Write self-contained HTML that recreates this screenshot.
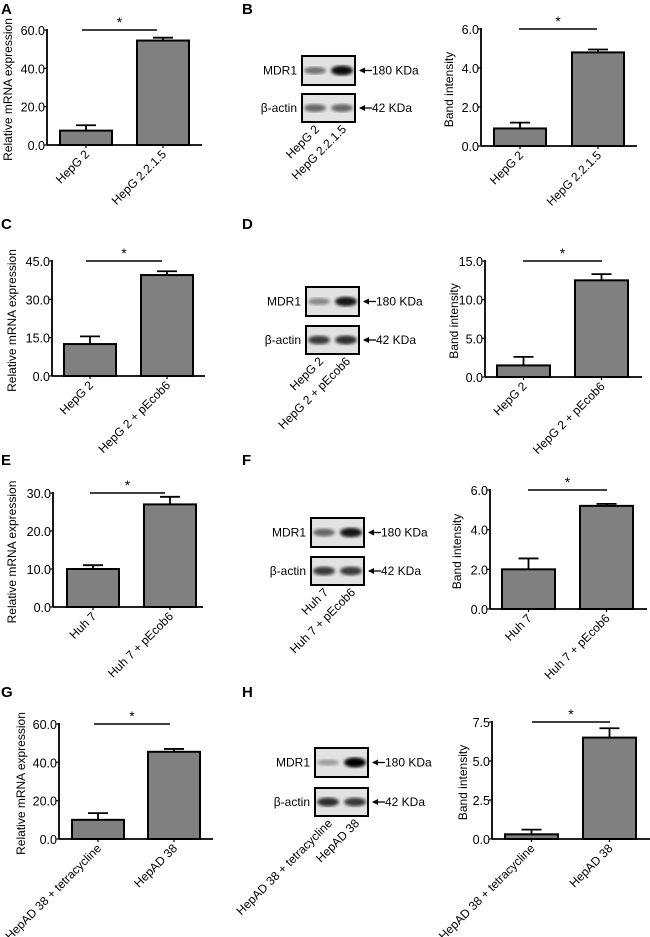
<!DOCTYPE html>
<html><head><meta charset="utf-8"><style>
html,body{margin:0;padding:0;background:#fff}
svg{display:block;font-family:"Liberation Sans",Arial,sans-serif}
</style></head><body>
<svg id="fig" width="650" height="937" viewBox="0 0 650 937" xmlns="http://www.w3.org/2000/svg">
<defs>
<filter id="blur1"><feGaussianBlur stdDeviation="1.6"/></filter>
</defs>
<g font-weight="bold" font-size="15" fill="#000">
<text x="1" y="14">A</text>
<text x="242" y="14">B</text>
<text x="1" y="229">C</text>
<text x="242" y="229">D</text>
<text x="1" y="465">E</text>
<text x="242" y="465">F</text>
<text x="1" y="697">G</text>
<text x="242" y="697">H</text>
</g>
</svg>
<script>
// ---- data ----
const catsA = ["HepG 2", "HepG 2.2.1.5"];
const valsA = [7.5, 54.5];
const errA = [10.3, 56.0];
const ticksA = [0, 20, 40, 60];
const tickLabelsA = ["0.0", "20.0", "40.0", "60.0"];

const catsB = ["HepG 2", "HepG 2.2.1.5"];
const valsB = [0.9, 4.8];
const errB = [1.2, 4.95];
const ticksB = [0, 2, 4, 6];
const tickLabelsB = ["0.0", "2.0", "4.0", "6.0"];

const catsC = ["HepG 2", "HepG 2 + pEcob6"];
const valsC = [12.5, 39.5];
const errC = [15.5, 41.0];
const ticksC = [0, 15, 30, 45];
const tickLabelsC = ["0.0", "15.0", "30.0", "45.0"];

const catsD = ["HepG 2", "HepG 2 + pEcob6"];
const valsD = [1.5, 12.5];
const errD = [2.6, 13.3];
const ticksD = [0, 5, 10, 15];
const tickLabelsD = ["0.0", "5.0", "10.0", "15.0"];

const catsE = ["Huh 7", "Huh 7 + pEcob6"];
const valsE = [10.0, 27.0];
const errE = [11.0, 29.0];
const ticksE = [0, 10, 20, 30];
const tickLabelsE = ["0.0", "10.0", "20.0", "30.0"];

const catsF = ["Huh 7", "Huh 7 + pEcob6"];
const valsF = [2.0, 5.2];
const errF = [2.55, 5.3];
const ticksF = [0, 2, 4, 6];
const tickLabelsF = ["0.0", "2.0", "4.0", "6.0"];

const catsG = ["HepAD 38 + tetracycline", "HepAD 38"];
const valsG = [10.0, 45.5];
const errG = [13.5, 47.0];
const ticksG = [0, 20, 40, 60];
const tickLabelsG = ["0.0", "20.0", "40.0", "60.0"];

const catsH = ["HepAD 38 + tetracycline", "HepAD 38"];
const valsH = [0.3, 6.5];
const errH = [0.6, 7.1];
const ticksH = [0, 2.5, 5, 7.5];
const tickLabelsH = ["0.0", "2.5", "5.0", "7.5"];

const svg = document.getElementById('fig');
const NS = 'http://www.w3.org/2000/svg';
function mk(tag, attrs, parent) {
  const e = document.createElementNS(NS, tag);
  for (const k in attrs) e.setAttribute(k, attrs[k]);
  (parent || svg).appendChild(e);
  return e;
}

function chart(id, cfg, cats, vals, errs, ticks, tickLabels, ytitle) {
  const g = mk('g', {});
  
  
  const max = ticks[ticks.length - 1];
  const y = v => cfg.base - (v / max) * (cfg.base - cfg.top);
  const ya = mk('line', {x1: cfg.ax, y1: cfg.top - 1, x2: cfg.ax, y2: cfg.base, stroke: '#000', 'stroke-width': 1.8}, g);
  
  
  const xa = mk('line', {x1: cfg.ax, y1: cfg.base, x2: cfg.axEnd, y2: cfg.base, stroke: '#000', 'stroke-width': 1.8}, g);
  
  
  ticks.forEach((t, i) => {
    mk('line', {x1: cfg.ax - 3, y1: y(t), x2: cfg.ax, y2: y(t), stroke: '#000', 'stroke-width': 1.2}, g);
    const tl = mk('text', {x: cfg.ax - 2, y: y(t) + 5, 'font-size': 12.5, 'text-anchor': 'end'}, g);
    tl.textContent = tickLabels[i];
    
    
  });
  const yt = mk('text', {transform: `translate(${cfg.titleX},${(cfg.top + cfg.base) / 2 + 2}) rotate(-90)`, 'font-size': 12, 'text-anchor': 'middle'}, g);
  yt.textContent = ytitle;
  
  
  cats.forEach((c, i) => {
    const x0 = cfg.bars[i];
    const cx = x0 + cfg.bw / 2;
    const ey = y(errs[i]);
    mk('line', {x1: cx, y1: ey, x2: cx, y2: y(vals[i]), stroke: '#000', 'stroke-width': 1.8}, g);
    mk('line', {x1: cx - 10, y1: ey, x2: cx + 10, y2: ey, stroke: '#000', 'stroke-width': 1.8}, g);
    mk('line', {x1: cx, y1: cfg.base, x2: cx, y2: cfg.base + 3, stroke: '#000', 'stroke-width': 1.2}, g);
    const b = mk('rect', {x: x0, y: y(vals[i]), width: cfg.bw, height: cfg.base - y(vals[i]), fill: '#808080', stroke: '#000', 'stroke-width': 2}, g);
    
    
    const xl = mk('text', {transform: `translate(${cx + 4},${cfg.base + 10}) rotate(-45)`, 'font-size': 12, 'text-anchor': 'end'}, g);
    xl.textContent = c;
    
    
  });
  const sy = cfg.top;
  const sl = mk('line', {x1: cfg.s1, y1: sy, x2: cfg.s2, y2: sy, stroke: '#000', 'stroke-width': 1.6}, g);
  
  
  const st = mk('text', {x: (cfg.s1 + cfg.s2) / 2, y: sy - 3, 'font-size': 14, 'text-anchor': 'middle'}, g);
  st.textContent = '*';
  
  
}

function blot(id, bx, by, by2, labels, mdr, act) {
  const g = mk('g', {});
  
  
  const w = 53;
  const rows = [[by, 29, 'MDR1', '180 KDa', mdr], [by2, 28, 'β-actin', '42 KDa', act]];
  rows.forEach((r, ri) => {
    const [yy, hh, lab, kda, dens] = r;
    mk('rect', {x: bx, y: yy, width: w, height: hh, fill: '#e2e2e2', stroke: '#000', 'stroke-width': 2}, g);
    dens.forEach((d, i) => {
      const cx = bx + 13 + i * 27;
      mk('ellipse', {cx: cx, cy: yy + hh / 2, rx: 11, ry: 2.5 + d * 2.5, fill: '#000', opacity: d, filter: 'url(#blur1)'}, g);
    });
    const t = mk('text', {x: bx - 5, y: yy + hh / 2 + 4, 'font-size': 12, 'text-anchor': 'end'}, g);
    t.textContent = lab;
    
    
    mk('line', {x1: bx + w + 5, y1: yy + hh / 2, x2: bx + w + 17, y2: yy + hh / 2, stroke: '#000', 'stroke-width': 1.3}, g);
    mk('path', {d: `M${bx + w + 4},${yy + hh / 2} l6,-3 l0,6 z`, fill: '#000'}, g);
    const k = mk('text', {x: bx + w + 17, y: yy + hh / 2 + 4, 'font-size': 12}, g);
    k.textContent = kda;
    
    
  });
  const yb = by2 + 28;
  labels.forEach((l, i) => {
    const t = mk('text', {transform: `translate(${bx + 18 + i * 27},${yb + 8}) rotate(-45)`, 'font-size': 12, 'text-anchor': 'end'}, g);
    t.textContent = l;
    
    
  });
}

const RT = 'Relative mRNA expression', BI = 'Band intensity';
chart('a', {ax: 47, axEnd: 202, top: 30, base: 145, bars: [60, 137], bw: 52, titleX: 12, s1: 82, s2: 157}, catsA, valsA, errA, ticksA, tickLabelsA, RT);
chart('b', {ax: 481, axEnd: 637, top: 29, base: 146, bars: [494, 572], bw: 52, titleX: 453, s1: 519, s2: 597}, catsB, valsB, errB, ticksB, tickLabelsB, BI);
blot('b', 302, 56, 94, catsB, [0.5, 0.95], [0.55, 0.55]);

chart('c', {ax: 52, axEnd: 205, top: 261, base: 376, bars: [64, 141], bw: 52, titleX: 16, s1: 86, s2: 162}, catsC, valsC, errC, ticksC, tickLabelsC, RT);
chart('d', {ax: 485, axEnd: 642, top: 261, base: 377, bars: [497, 575], bw: 53, titleX: 458, s1: 523, s2: 602}, catsD, valsD, errD, ticksD, tickLabelsD, BI);
blot('d', 306, 287, 326, catsD, [0.4, 0.9], [0.75, 0.8]);

chart('e', {ax: 53, axEnd: 203, top: 493, base: 607, bars: [67, 144], bw: 52, titleX: 16, s1: 90, s2: 165}, catsE, valsE, errE, ticksE, tickLabelsE, RT);
chart('f', {ax: 490, axEnd: 647, top: 490, base: 609, bars: [502, 580], bw: 53, titleX: 461, s1: 528, s2: 607}, catsF, valsF, errF, ticksF, tickLabelsF, BI);
blot('f', 311, 518, 557, catsF, [0.55, 0.9], [0.75, 0.75]);

chart('g', {ax: 59, axEnd: 213, top: 724, base: 839, bars: [72, 148], bw: 52, titleX: 25, s1: 94, s2: 170}, catsG, valsG, errG, ticksG, tickLabelsG, RT);
chart('h', {ax: 492, axEnd: 650, top: 722, base: 839, bars: [505, 583], bw: 53, titleX: 467, s1: 532, s2: 610}, catsH, valsH, errH, ticksH, tickLabelsH, BI);
blot('h', 315, 748, 788, catsH, [0.3, 1.0], [0.8, 0.75]);
</script>
</body></html>
